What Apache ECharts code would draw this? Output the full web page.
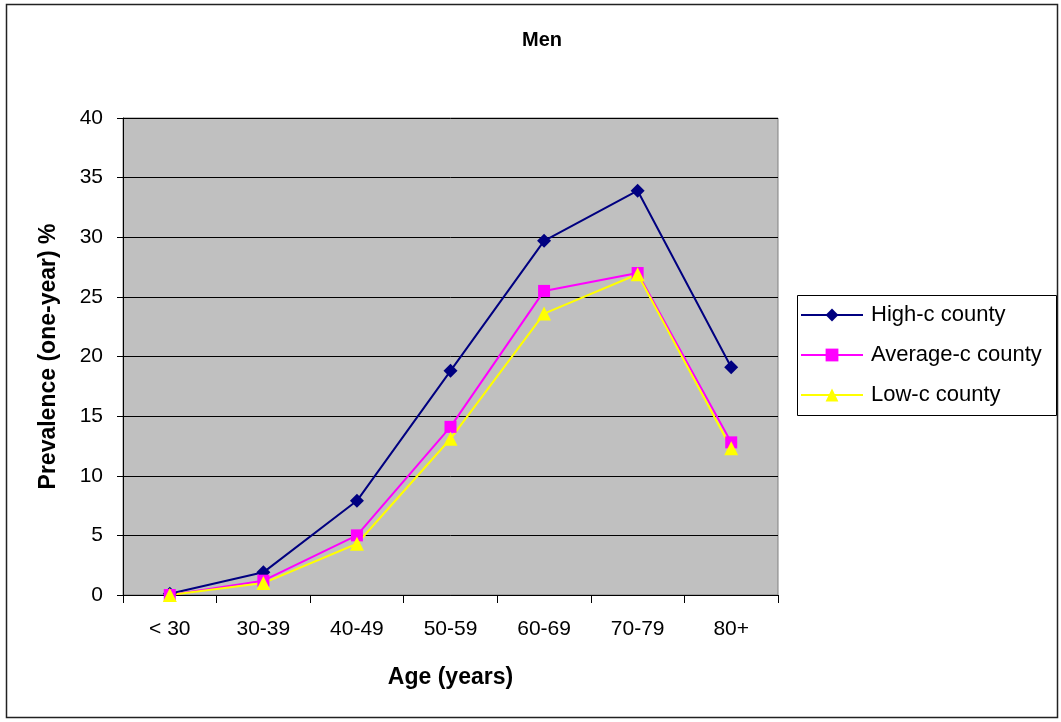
<!DOCTYPE html>
<html><head><meta charset="utf-8">
<script src="https://cdn.jsdelivr.net/npm/echarts@6/dist/echarts.min.js"></script>
<style>html,body{margin:0;padding:0;background:#fff}#c{width:1061px;height:722px}</style>
</head><body><div id="c"></div>
<script>
const categories = ['< 30','30-39','40-49','50-59','60-69','70-79','80+'];
const highC = [0.1, 1.9, 7.9, 18.8, 29.7, 33.9, 19.1];
const averageC = [0.0, 1.2, 5.0, 14.1, 25.5, 27.0, 12.8];
const lowC = [0.0, 1.0, 4.3, 13.1, 23.6, 26.9, 12.3];
const seriesNames = ['High-c county','Average-c county','Low-c county'];
const yTicks = {min:0, max:40, interval:5};

const font = '"Liberation Sans", Arial, sans-serif';
const chart = echarts.init(document.getElementById('c'), null, {renderer:'canvas'});
chart.setOption({
  animation:false,
  backgroundColor:'#fff',
  graphic:[
    {type:'rect', shape:{x:6.5,y:4.5,width:1051,height:713}, style:{fill:null, stroke:'#222', lineWidth:1.5}, z:-1},
    {type:'rect', shape:{x:797.5,y:295.5,width:259,height:120}, style:{fill:'#fff', stroke:'#000', lineWidth:1}, z:0}
  ],
  title:{text:'Men', left:537, top:25, textAlign:'center',
    textStyle:{fontFamily:font, fontSize:20, fontWeight:'bold', color:'#000'}},
  grid:{left:123, top:118, right:283, bottom:127, show:true, backgroundColor:'#c0c0c0', borderColor:'#808080', borderWidth:1},
  legend:{orient:'vertical', left:797, top:304, padding:[0,0,0,3], itemGap:18,
    itemWidth:62, itemHeight:16, borderWidth:0, z:5,
    textStyle:{fontFamily:font, fontSize:22, color:'#000', padding:[0,0,0,3]},
    data:seriesNames},
  xAxis:{type:'category', data:categories, boundaryGap:true,
    name:'Age (years)', nameLocation:'middle', nameGap:71,
    nameTextStyle:{fontFamily:font, fontSize:23, fontWeight:'bold', color:'#000'},
    axisLine:{lineStyle:{color:'#000', width:1}},
    axisTick:{show:true, length:8, lineStyle:{color:'#000'}, alignWithLabel:false},
    axisLabel:{fontFamily:font, fontSize:21, color:'#000', margin:24},
    splitLine:{show:false}},
  yAxis:{type:'value', min:yTicks.min, max:yTicks.max, interval:yTicks.interval,
    name:'Prevalence (one-year) %', nameLocation:'middle', nameGap:63, nameRotate:90,
    nameTextStyle:{fontFamily:font, fontSize:23, fontWeight:'bold', color:'#000'},
    axisLine:{show:true, lineStyle:{color:'#000', width:1}},
    axisTick:{show:true, length:6, lineStyle:{color:'#000'}},
    axisLabel:{fontFamily:font, fontSize:21, color:'#000', margin:20},
    splitLine:{show:true, lineStyle:{color:'#000', width:1}}},
  series:[
    {name:seriesNames[0], type:'line', data:highC, symbol:'diamond', symbolSize:14,
      itemStyle:{color:'#000080'}, lineStyle:{color:'#000080', width:2}},
    {name:seriesNames[1], type:'line', data:averageC, symbol:'rect', symbolSize:12,
      itemStyle:{color:'#ff00ff'}, lineStyle:{color:'#ff00ff', width:2}},
    {name:seriesNames[2], type:'line', data:lowC, symbol:'triangle', symbolSize:14,
      itemStyle:{color:'#ffff00'}, lineStyle:{color:'#ffff00', width:2}}
  ]
});
</script></body></html>
